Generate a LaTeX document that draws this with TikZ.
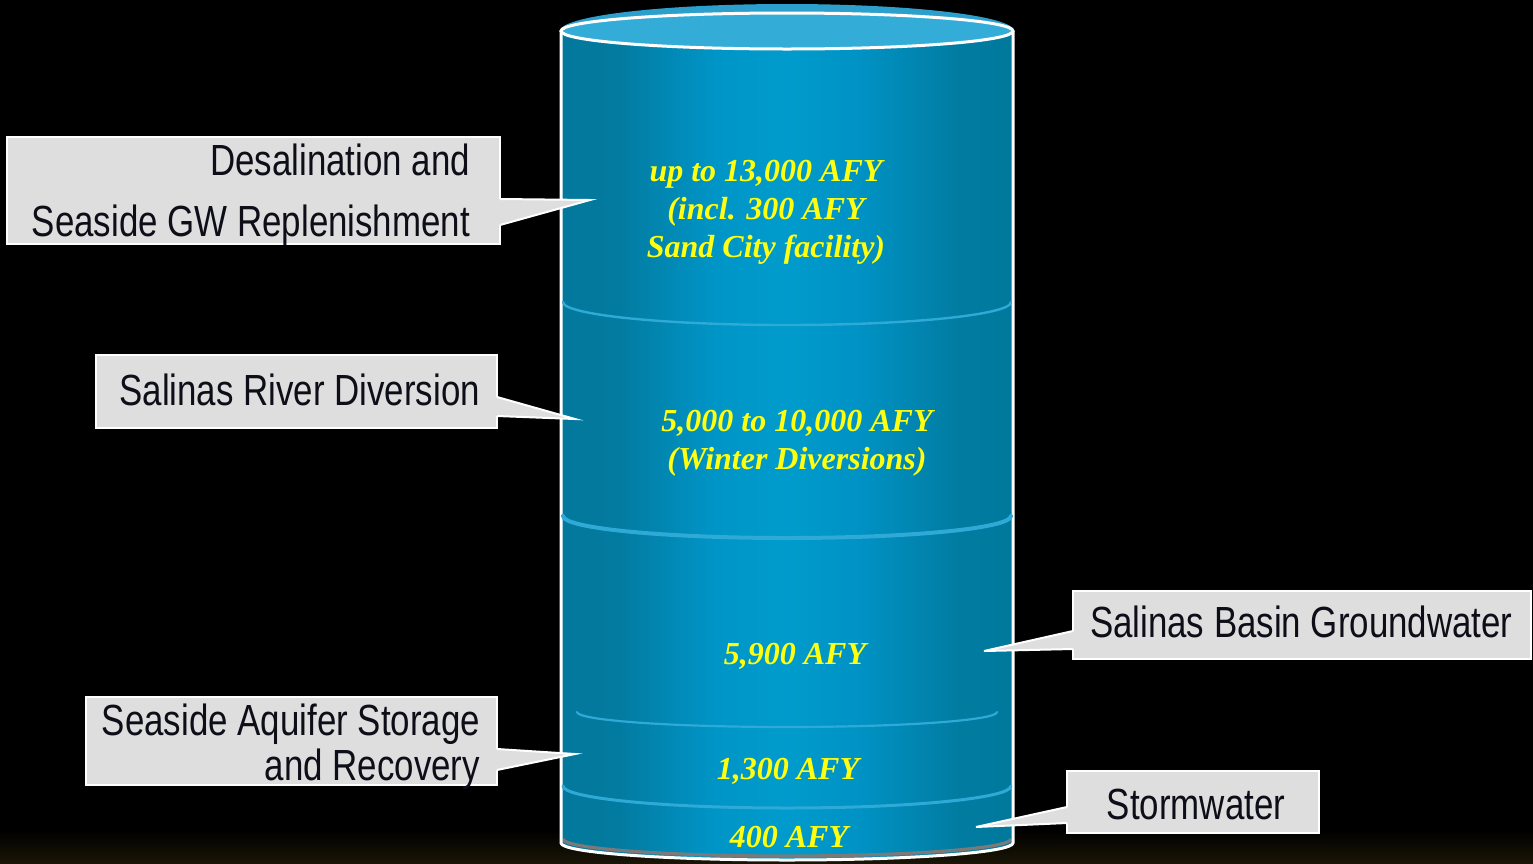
\documentclass[tikz,border=0pt]{standalone}
\usepackage{fontspec}
\setmainfont{Liberation Sans}
\newfontfamily\calloutfont[FakeStretch=0.80]{Liberation Sans}
\newfontfamily\valfont{Liberation Serif}
\usetikzlibrary{calc}
\definecolor{calloutgray}{HTML}{DEDEDE}
\definecolor{callouttext}{HTML}{0E0E18}
\definecolor{bandblue}{HTML}{2FA9D6}
\definecolor{capblue}{HTML}{33ADD8}
\definecolor{haloblue}{HTML}{2C9FCC}
\definecolor{valyellow}{HTML}{FFFF10}
\definecolor{shadowgray}{HTML}{7A7A7A}
\definecolor{glowdark}{HTML}{1A1506}
\pgfdeclarehorizontalshading{cylbody}{100bp}{%
  rgb(0bp)=(0.012,0.471,0.612);
  rgb(25bp)=(0.012,0.471,0.612);
  rgb(31bp)=(0.012,0.478,0.624);
  rgb(42bp)=(0,0.584,0.780);
  rgb(50bp)=(0,0.608,0.800);
  rgb(58bp)=(0,0.573,0.769);
  rgb(69bp)=(0.004,0.486,0.631);
  rgb(75bp)=(0,0.471,0.612);
  rgb(100bp)=(0,0.471,0.612)}
\tikzset{
  calloutbox/.style={rectangle, fill=calloutgray, draw=white, line width=1pt,
    outer sep=0pt, inner sep=0pt, anchor=north west},
  wedgefill/.style={fill=calloutgray},
  wedgeline/.style={draw=white, line width=1pt, line join=miter},
  lbl/.style={inner sep=0pt, outer sep=0pt, text=callouttext,
    font=\calloutfont\fontsize{21.8pt}{26pt}\selectfont},
  val/.style={inner sep=0pt, outer sep=0pt, anchor=base, text=valyellow,
    font=\valfont\bfseries\itshape\fontsize{16pt}{19pt}\selectfont},
  band/.style={draw=bandblue, line cap=round},
}
\begin{document}
\begin{tikzpicture}[x=0.5pt, y=-0.5pt]
\useasboundingbox (0,0) rectangle (1533,863);
\fill[black] (0,0) rectangle (1533,863);
\shade[top color=black, bottom color=glowdark] (0,830) rectangle (1533,863);

% ---- cylinder ----
\fill[haloblue] (560,31) arc[start angle=180, end angle=0, x radius=113.5pt, y radius=13.5pt] -- cycle;
\fill[shading=cylbody] (561,31) -- (561,843)
  arc[start angle=180, end angle=360, x radius=113pt, y radius=8.5pt] -- (1013,31) -- cycle;
\draw[shadowgray, line width=1.6pt] (563,839) arc[start angle=180, end angle=360, x radius=112pt, y radius=8.5pt];
\draw[white, line width=1.5pt, line join=round] (561,31) -- (561,843)
  arc[start angle=180, end angle=360, x radius=113pt, y radius=8.5pt] -- (1013,31);
\draw[white, line width=1.5pt, fill=capblue] (787,31) ellipse[x radius=113pt, y radius=9pt];

% band lines
\draw[band, line width=1.2pt] (563,302) arc[start angle=180, end angle=360, x radius=112pt, y radius=11.5pt];
\draw[band, line width=2pt] (563,516) arc[start angle=180, end angle=360, x radius=112pt, y radius=11pt];
\draw[band, line width=1.1pt] (577,712) arc[start angle=180, end angle=360, x radius=105pt, y radius=7.5pt];
\draw[band, line width=1.5pt] (563,786) arc[start angle=180, end angle=360, x radius=112pt, y radius=11pt];

% ---- callouts ----
% 1 Desalination
\node[calloutbox, minimum width=493*0.5pt, minimum height=107*0.5pt] (b1) at (7,137) {};
\coordinate (p1) at (590,200);
\fill[wedgefill] ($(b1.north east)+(-3,62)$) -- ($(b1.north east)+(0,62)$) -- (p1)
  -- ($(b1.north east)+(0,88)$) -- ($(b1.north east)+(-3,88)$) -- cycle;
\draw[wedgeline] ($(b1.north east)+(0,62)$) -- (p1) -- ($(b1.north east)+(0,88)$);
\node[lbl, anchor=base east] (t1a) at (470,175) {Desalination and};
\node[lbl, anchor=base east] (t1b) at (470,236) {Seaside GW Replenishment};

% 2 Salinas River Diversion
\node[calloutbox, minimum width=401*0.5pt, minimum height=73*0.5pt] (b2) at (96,355) {};
\coordinate (p2) at (575,419);
\fill[wedgefill] ($(b2.north east)+(-3,42)$) -- ($(b2.north east)+(0,42)$) -- (p2)
  -- ($(b2.north east)+(0,61)$) -- ($(b2.north east)+(-3,61)$) -- cycle;
\draw[wedgeline] ($(b2.north east)+(0,42)$) -- (p2) -- ($(b2.north east)+(0,61)$);
\node[lbl, anchor=base east] (t2) at (480,405) {Salinas River Diversion};

% 3 Seaside Aquifer Storage and Recovery
\node[calloutbox, minimum width=411*0.5pt, minimum height=88*0.5pt] (b3) at (86,697) {};
\coordinate (p3) at (575,754);
\fill[wedgefill] ($(b3.north east)+(-3,52)$) -- ($(b3.north east)+(0,52)$) -- (p3)
  -- ($(b3.north east)+(0,73)$) -- ($(b3.north east)+(-3,73)$) -- cycle;
\draw[wedgeline] ($(b3.north east)+(0,52)$) -- (p3) -- ($(b3.north east)+(0,73)$);
\node[lbl, anchor=base east] (t3a) at (480,735) {Seaside Aquifer Storage};
\node[lbl, anchor=base east] (t3b) at (480,780) {and Recovery};

% 4 Salinas Basin Groundwater
\node[calloutbox, minimum width=458*0.5pt, minimum height=68*0.5pt] (b4) at (1073,591) {};
\coordinate (p4) at (984,651);
\fill[wedgefill] ($(b4.north west)+(3,40)$) -- ($(b4.north west)+(0,40)$) -- (p4)
  -- ($(b4.north west)+(0,58)$) -- ($(b4.north west)+(3,58)$) -- cycle;
\draw[wedgeline] ($(b4.north west)+(0,40)$) -- (p4) -- ($(b4.north west)+(0,58)$);
\node[lbl, anchor=base west] (t4) at (1090,637) {Salinas Basin Groundwater};

% 5 Stormwater
\node[calloutbox, minimum width=252*0.5pt, minimum height=62*0.5pt] (b5) at (1067,771) {};
\coordinate (p5) at (976,827);
\fill[wedgefill] ($(b5.north west)+(3,36)$) -- ($(b5.north west)+(0,36)$) -- (p5)
  -- ($(b5.north west)+(0,52)$) -- ($(b5.north west)+(3,52)$) -- cycle;
\draw[wedgeline] ($(b5.north west)+(0,36)$) -- (p5) -- ($(b5.north west)+(0,52)$);
\node[lbl, anchor=base] (t5) at (1196,819) {Stormwater};

% ---- values ----
\node[val] (v1a) at (766,181) {up to 13,000 AFY};
\node[val] (v1b) at (766,219) {(incl. 300 AFY};
\node[val] (v1c) at (766,257) {Sand City facility)};
\node[val] (v2a) at (797,431) {5,000 to 10,000 AFY};
\node[val] (v2b) at (797,469) {(Winter Diversions)};
\node[val] (v3) at (795,664) {5,900 AFY};
\node[val] (v4) at (788,779) {1,300 AFY};
\node[val] (v5) at (789,847) {400 AFY};
\end{tikzpicture}
\end{document}
